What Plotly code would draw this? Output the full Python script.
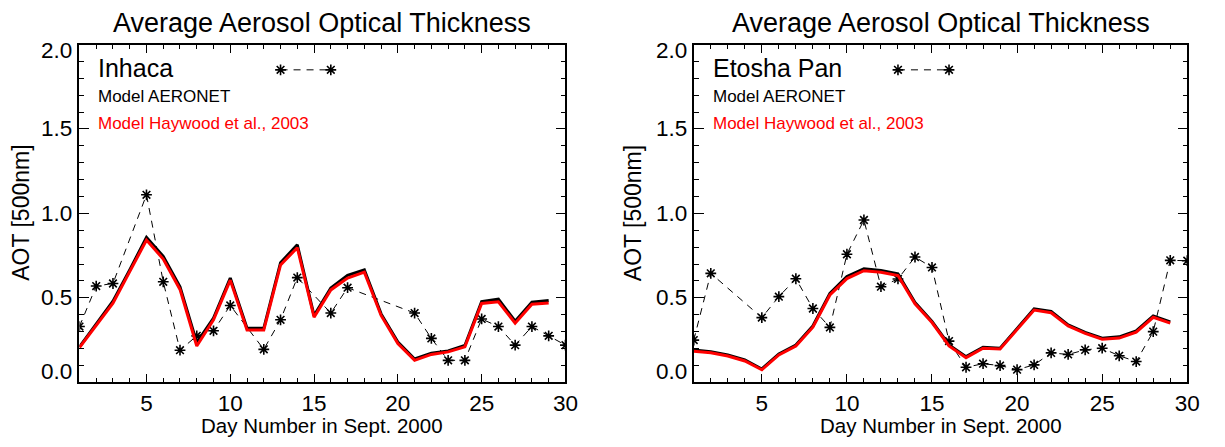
import plotly.graph_objects as go

days_model = list(range(1, 30))

# Inhaca
inhaca_obs_days = [1, 2, 3, 5, 6, 7, 8, 9, 10, 12, 13, 14, 16, 17, 21, 22, 23, 24, 25, 26, 27, 28, 29, 30]
inhaca_obs = [0.33, 0.57, 0.585, 1.11, 0.595, 0.19, 0.275, 0.305, 0.455, 0.195, 0.37, 0.62, 0.41, 0.56,
              0.41, 0.26, 0.13, 0.13, 0.375, 0.33, 0.22, 0.33, 0.275, 0.22]
inhaca_aeronet = [0.21, 0.345, 0.48, 0.665, 0.858, 0.745, 0.565, 0.235, 0.38, 0.617, 0.32, 0.32, 0.708, 0.814,
                  0.395, 0.558, 0.633, 0.666, 0.405, 0.238, 0.138, 0.172, 0.186, 0.218, 0.478, 0.492, 0.362,
                  0.474, 0.484]
inhaca_haywood = [0.205, 0.335, 0.468, 0.655, 0.842, 0.73, 0.55, 0.215, 0.37, 0.605, 0.31, 0.31, 0.695, 0.797,
                  0.385, 0.547, 0.617, 0.652, 0.396, 0.23, 0.13, 0.165, 0.18, 0.21, 0.467, 0.477, 0.35,
                  0.462, 0.47]

# Etosha Pan
etosha_obs_days = [1, 2, 5, 6, 7, 8, 9, 10, 11, 12, 13, 14, 15, 16, 17, 18, 19, 20, 21, 22, 23, 24, 25, 26,
                   27, 28, 29, 30]
etosha_obs = [0.25, 0.645, 0.383, 0.507, 0.613, 0.437, 0.325, 0.758, 0.961, 0.566, 0.612, 0.742, 0.68, 0.244,
              0.089, 0.11, 0.099, 0.075, 0.103, 0.174, 0.165, 0.192, 0.202, 0.157, 0.123, 0.3, 0.722, 0.72]
etosha_aeronet = [0.191, 0.181, 0.162, 0.132, 0.079, 0.168, 0.221, 0.333, 0.526, 0.626, 0.672, 0.662, 0.642,
                  0.472, 0.36, 0.221, 0.152, 0.208, 0.202, 0.32, 0.435, 0.419, 0.34, 0.296, 0.261, 0.269,
                  0.304, 0.393, 0.358]
etosha_haywood = [0.184, 0.175, 0.156, 0.126, 0.074, 0.162, 0.215, 0.326, 0.517, 0.614, 0.661, 0.652, 0.632,
                  0.465, 0.354, 0.215, 0.146, 0.202, 0.197, 0.313, 0.428, 0.412, 0.334, 0.29, 0.255, 0.262,
                  0.297, 0.385, 0.35]

legend_sample_x = [13, 16]
legend_sample_y = [1.85, 1.85]

y_ticks = [0.0, 0.5, 1.0, 1.5, 2.0]
y_ticklabels = ["0.0", "0.5", "1.0", "1.5", "2.0"]
x_ticks = [5, 10, 15, 20, 25, 30]

FONT = "Liberation Sans, Arial, sans-serif"

panels = [
    ("x", "y", "Inhaca", inhaca_obs_days, inhaca_obs, inhaca_aeronet, inhaca_haywood),
    ("x2", "y2", "Etosha Pan", etosha_obs_days, etosha_obs, etosha_aeronet, etosha_haywood),
]

fig = go.Figure()
obs_line = dict(color="black", width=1, dash="7px,6px")
obs_marker = dict(symbol="asterisk-open", size=9, color="black", line=dict(color="black", width=1.6))

for xa, ya, site, od, ov, am, hm in panels:
    fig.add_trace(go.Scatter(x=od, y=ov, mode="lines+markers", line=obs_line, marker=obs_marker,
                             xaxis=xa, yaxis=ya, showlegend=False))
    fig.add_trace(go.Scatter(x=days_model, y=am, mode="lines", line=dict(color="black", width=3),
                             xaxis=xa, yaxis=ya, showlegend=False))
    fig.add_trace(go.Scatter(x=days_model, y=hm, mode="lines", line=dict(color="#ff0000", width=3),
                             xaxis=xa, yaxis=ya, showlegend=False))
    fig.add_trace(go.Scatter(x=legend_sample_x, y=legend_sample_y, mode="lines+markers", line=obs_line,
                             marker=obs_marker, xaxis=xa, yaxis=ya, showlegend=False))

W, H = 1225, 447
xdoms = [[80.3 / W, 571.5 / W], [701.2 / W, 1200.0 / W]]
ydom = [1 - 382.3 / H, 1 - 44.5 / H]

axis_common = dict(showline=True, linecolor="black", linewidth=1.5, mirror="ticks", ticks="inside",
                   tickcolor="black", tickwidth=1.2, showgrid=False, zeroline=False,
                   tickfont=dict(family=FONT, size=22.5, color="black"))

layout = dict(width=W, height=H, margin=dict(l=0, r=0, t=0, b=0), paper_bgcolor="white",
              plot_bgcolor="white", showlegend=False, font=dict(family=FONT, color="black"))

for i, (xa, ya, *_rest) in enumerate(panels):
    xk = "xaxis" if i == 0 else "xaxis2"
    yk = "yaxis" if i == 0 else "yaxis2"
    layout[xk] = dict(axis_common, domain=xdoms[i], range=[1, 30], tickmode="array", tickvals=x_ticks,
                      ticklen=9, anchor=ya, ticklabelstandoff=0,
                      minor=dict(dtick=1, tick0=0, ticklen=5, ticks="inside", tickcolor="black", tickwidth=1.2))
    layout[yk] = dict(axis_common, domain=ydom, range=[0, 2], tickmode="array", tickvals=y_ticks,
                      showticklabels=False, ticklen=10, anchor=xa,
                      minor=dict(dtick=0.1, tick0=0, ticklen=5, ticks="inside", tickcolor="black", tickwidth=1.2))

fig.update_layout(**layout)

# IDL-style y tick labels: end labels pulled inside the axis range
label_shift = {0.0: 11, 2.0: -6}

ann = []
for i, (xa, ya, site, *_r) in enumerate(panels):
    cx = (xdoms[i][0] + xdoms[i][1]) / 2
    for v, t in zip(y_ticks, y_ticklabels):
        ann.append(dict(text=t, x=0, y=v, xref=xa + " domain", yref=ya, xanchor="right", yanchor="middle",
                        xshift=-5, yshift=label_shift.get(v, 0), showarrow=False,
                        font=dict(family=FONT, size=22.5, color="black")))
    ann.append(dict(text="Average Aerosol Optical Thickness", x=cx, y=1 - 23 / H, xref="paper", yref="paper",
                    xanchor="center", yanchor="middle", showarrow=False, font=dict(family=FONT, size=27)))
    ann.append(dict(text="Day Number in Sept. 2000", x=cx, y=1 - 425 / H, xref="paper", yref="paper",
                    xanchor="center", yanchor="middle", showarrow=False, font=dict(family=FONT, size=20.5)))
    ann.append(dict(text="AOT [500nm]", x=(21 if i == 0 else 640) / W, y=1 - 213 / H, xref="paper",
                    yref="paper", xanchor="center", yanchor="middle", textangle=-90, showarrow=False,
                    font=dict(family=FONT, size=23)))
    ann.append(dict(text=site, x=2.0, y=1.86, xref=xa, yref=ya, xanchor="left", yanchor="middle",
                    showarrow=False, font=dict(family=FONT, size=25, color="black")))
    ann.append(dict(text="Model AERONET", x=2.0, y=1.69, xref=xa, yref=ya, xanchor="left", yanchor="middle",
                    showarrow=False, font=dict(family=FONT, size=17, color="black")))
    ann.append(dict(text="Model Haywood et al., 2003", x=2.0, y=1.535, xref=xa, yref=ya, xanchor="left",
                    yanchor="middle", showarrow=False, font=dict(family=FONT, size=17, color="#ff0000")))
fig.update_layout(annotations=ann)

fig.write_html("out.html")
